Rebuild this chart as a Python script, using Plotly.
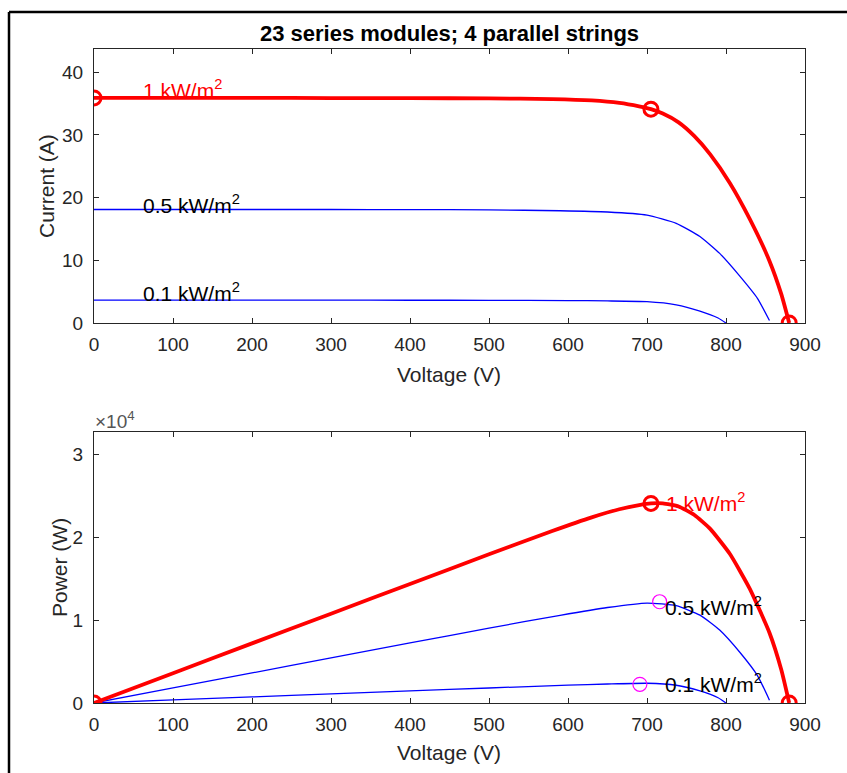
import numpy as np
import plotly.graph_objects as go

# I-V characteristics of the PV array at three irradiance levels
v_1000 = [0, 100, 200, 300, 400, 500, 580, 630, 665, 690, 705, 720, 740, 760, 780, 805, 830, 855, 870, 880]
i_1000 = [35.9, 35.9, 35.9, 35.88, 35.86, 35.82, 35.72, 35.5, 35.1, 34.55, 34.1, 33.4, 32.0, 29.8, 26.9, 22.3, 16.6, 9.9, 4.6, 0.0]

v_500 = [0, 100, 200, 300, 400, 500, 590, 650, 700, 737, 767, 792, 818, 840, 855]
i_500 = [18.1, 18.1, 18.1, 18.1, 18.08, 18.05, 17.9, 17.7, 17.2, 15.9, 13.8, 11.1, 7.4, 3.9, 0.4]

v_100 = [0, 100, 200, 300, 400, 500, 600, 650, 700, 737, 767, 790, 800]
i_100 = [3.65, 3.65, 3.65, 3.64, 3.63, 3.62, 3.58, 3.52, 3.4, 2.9, 1.9, 0.8, 0.0]

# Key points on the 1 kW/m^2 curve: short circuit, maximum power, open circuit
key_v = [0, 705, 880]
key_i = [35.9, 34.1, 0.0]

# Maximum power points of the reduced-irradiance curves
mpp_v = [716, 691]
mpp_i = [17.04, 3.26]

labels = ["1 kW/m<sup>2</sup>", "0.5 kW/m<sup>2</sup>", "0.1 kW/m<sup>2</sup>"]

x_ticks = list(range(0, 901, 100))
i_ticks = [0, 10, 20, 30, 40]
p_ticks = [0, 10000, 20000, 30000]
p_tick_text = ["0", "1", "2", "3"]


def power(v, i):
    return list(np.array(v, dtype=float) * np.array(i, dtype=float))


W, H = 847, 773
FONT = "Liberation Sans, Arial, Helvetica, sans-serif"
AX = "#262626"
RED = "#ff0000"
BLUE = "#0000ff"
MAG = "#ff00ff"

fig = go.Figure()

blue_line = dict(color=BLUE, width=1.3, shape="spline", smoothing=0.5)
red_line = dict(color=RED, width=3.8, shape="spline", smoothing=0.5)
red_marker = dict(symbol="circle-open", size=14, color=RED, line=dict(width=3, color=RED))

# Current vs voltage
fig.add_trace(go.Scatter(x=v_100, y=i_100, mode="lines", line=blue_line, xaxis="x", yaxis="y"))
fig.add_trace(go.Scatter(x=v_500, y=i_500, mode="lines", line=blue_line, xaxis="x", yaxis="y"))
fig.add_trace(go.Scatter(x=v_1000, y=i_1000, mode="lines", line=red_line, xaxis="x", yaxis="y"))
fig.add_trace(go.Scatter(x=key_v, y=key_i, mode="markers", marker=red_marker, xaxis="x", yaxis="y"))

# Power vs voltage
fig.add_trace(go.Scatter(x=v_100, y=power(v_100, i_100), mode="lines", line=blue_line, xaxis="x2", yaxis="y2"))
fig.add_trace(go.Scatter(x=v_500, y=power(v_500, i_500), mode="lines", line=blue_line, xaxis="x2", yaxis="y2"))
fig.add_trace(go.Scatter(x=v_1000, y=power(v_1000, i_1000), mode="lines", line=red_line, xaxis="x2", yaxis="y2"))
fig.add_trace(go.Scatter(x=mpp_v, y=power(mpp_v, mpp_i), mode="markers",
                         marker=dict(symbol="circle-open", size=14, color=MAG, line=dict(width=1.2, color=MAG)),
                         xaxis="x2", yaxis="y2"))
fig.add_trace(go.Scatter(x=key_v, y=power(key_v, key_i), mode="markers", marker=red_marker,
                         xaxis="x2", yaxis="y2"))


def px_x(p):
    return p / W


def px_y(p):
    return 1 - p / H


TICK_FONT = dict(family=FONT, size=19, color=AX)
LABEL_FONT = dict(family=FONT, size=21, color=AX)

common_x = dict(range=[0, 900], tickvals=x_ticks, ticks="inside", ticklen=5, tickcolor=AX,
                showline=True, linecolor=AX, linewidth=1, mirror="ticks", showgrid=False,
                zeroline=False, tickfont=TICK_FONT, ticklabelstandoff=4, automargin=False)
common_y = dict(ticks="inside", ticklen=5, tickcolor=AX, showline=True, linecolor=AX, linewidth=1,
                mirror="ticks", showgrid=False, zeroline=False, tickfont=TICK_FONT,
                ticklabelstandoff=6, automargin=False)

fig.update_layout(
    width=W, height=H,
    margin=dict(l=0, r=0, t=0, b=0, autoexpand=False),
    paper_bgcolor="white", plot_bgcolor="white",
    showlegend=False,
    xaxis=dict(domain=[px_x(94), px_x(805)], anchor="y", **common_x),
    yaxis=dict(domain=[px_y(323), px_y(49)], anchor="x", range=[0, 43.7], tickvals=i_ticks, **common_y),
    xaxis2=dict(domain=[px_x(94), px_x(805)], anchor="y2", **common_x),
    yaxis2=dict(domain=[px_y(703), px_y(432)], anchor="x2", range=[0, 32650], tickvals=p_ticks,
                ticktext=p_tick_text, **common_y),
)


def paper_text(text, x, y, font, angle=0, xanchor="center"):
    return dict(text=text, x=px_x(x), y=px_y(y), xref="paper", yref="paper", showarrow=False,
                xanchor=xanchor, yanchor="middle", textangle=angle, font=font)


def data_text(text, x, y, axis, color):
    return dict(text=text, x=x, y=y, xref="x" + axis, yref="y" + axis, showarrow=False,
                xanchor="left", yanchor="middle", font=dict(family=FONT, size=21, color=color))


annotations = [
    paper_text("<b>23 series modules; 4 parallel strings</b>", 449, 33,
               dict(family=FONT, size=22, color="black")),
    paper_text("Voltage (V)", 449, 374, LABEL_FONT),
    paper_text("Voltage (V)", 449, 752, LABEL_FONT),
    paper_text("Current (A)", 46, 186, LABEL_FONT, angle=-90),
    paper_text("Power (W)", 59, 568, LABEL_FONT, angle=-90),
    paper_text("\u00d710<sup>4</sup>", 93, 420, dict(family=FONT, size=19, color="#555555"), xanchor="left"),
    # labels on the current plot
    data_text(labels[0], 60, 37.3, "", RED),
    data_text(labels[1], 60, 19.0, "", "black"),
    data_text(labels[2], 60, 5.0, "", "black"),
    # labels on the power plot
    data_text(labels[0], 722, 24200, "2", RED),
    data_text(labels[1], 720, 11700, "2", "black"),
    data_text(labels[2], 720, 2400, "2", "black"),
]
fig.update_layout(annotations=annotations)

# Frame edges of the figure window
fig.add_shape(type="line", xref="paper", yref="paper", x0=px_x(9), x1=1, y0=px_y(12), y1=px_y(12),
              line=dict(color="black", width=2.5))
fig.add_shape(type="line", xref="paper", yref="paper", x0=px_x(9), x1=px_x(9), y0=0, y1=px_y(12),
              line=dict(color="black", width=2.5))

fig.write_html("out.html")
